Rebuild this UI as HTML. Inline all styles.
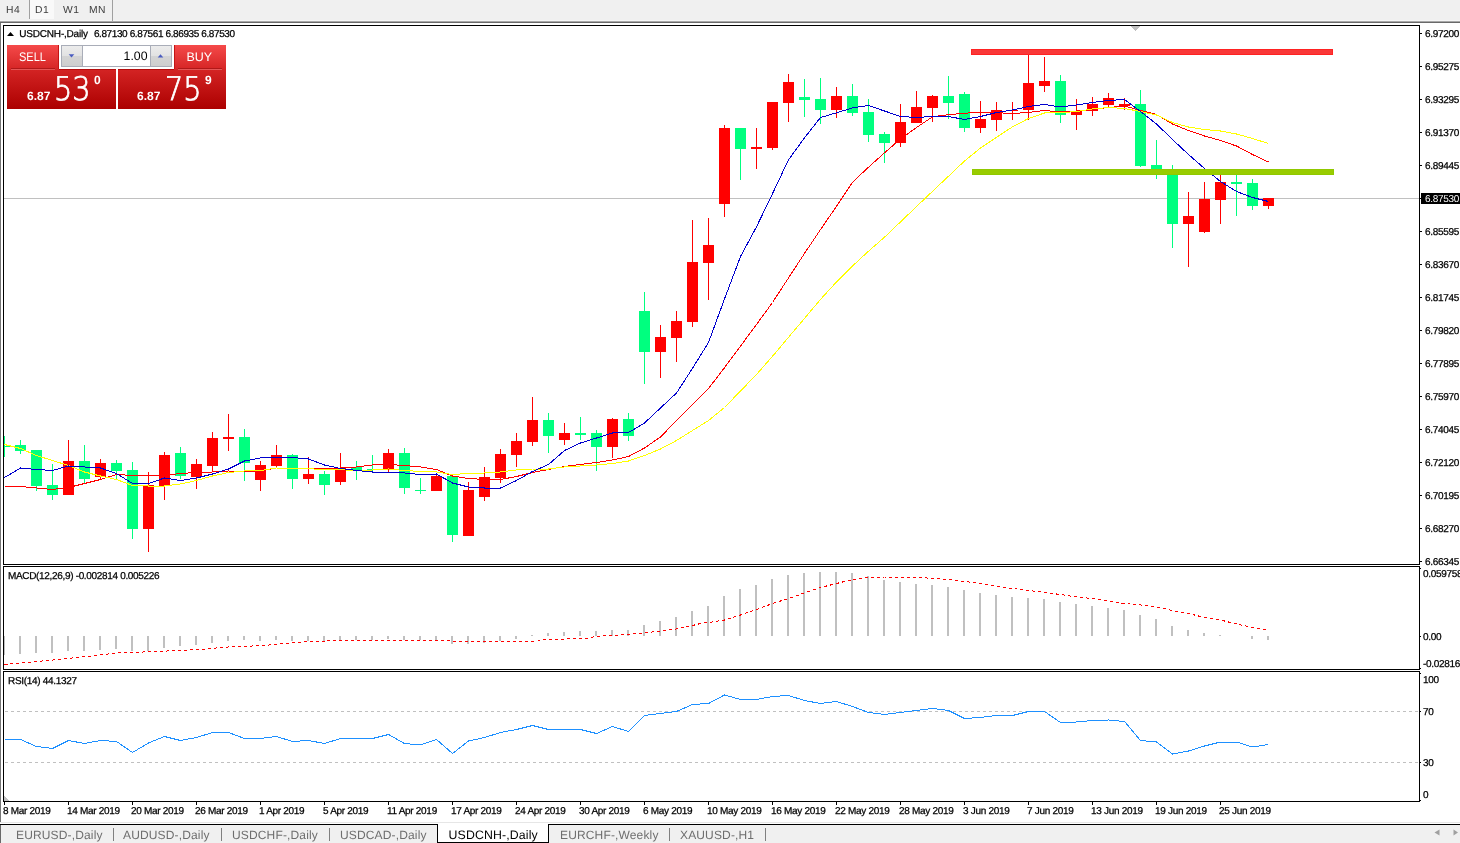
<!DOCTYPE html>
<html><head><meta charset="utf-8"><title>USDCNH-,Daily</title>
<style>
html,body{margin:0;padding:0;}
body{width:1460px;height:843px;position:relative;overflow:hidden;background:#fff;font-family:"Liberation Sans",sans-serif;text-rendering:geometricPrecision;}
.ln{position:absolute;}
#tb{position:absolute;left:0;top:0;width:1460px;height:21px;background:#f0f0f0;}
#tb .t{position:absolute;top:3px;font-size:11px;color:#3c3c3c;line-height:13px;}
.ax,.dt,.lbl{-webkit-text-stroke:0.25px #000;}
.ax{position:absolute;left:1425px;font-size:10px;line-height:12px;color:#000;white-space:nowrap;letter-spacing:-0.3px;}
.cur{position:absolute;left:1421px;top:193px;width:39px;height:11px;background:#000;color:#fff;font-size:10px;line-height:13px;letter-spacing:-0.3px;box-sizing:border-box;padding-left:4px;white-space:nowrap;}
.dt{position:absolute;top:806px;font-size:10px;line-height:12px;color:#000;white-space:nowrap;letter-spacing:-0.3px;}
.lbl{position:absolute;font-size:10px;line-height:12px;color:#000;white-space:nowrap;letter-spacing:-0.2px;}
#tabs{position:absolute;left:0;top:825px;width:1460px;height:18px;background:#f0f0f0;}
.tab{position:absolute;top:828px;font-size:12px;line-height:14px;color:#6e6e6e;white-space:nowrap;letter-spacing:0.15px;}
.pt{position:absolute;white-space:nowrap;}
.big{font-family:"DejaVu Sans Light","DejaVu Sans","Liberation Sans",sans-serif;font-weight:200;font-size:32.5px;line-height:36px;color:#fff;-webkit-text-stroke:0.8px #fff;transform:scaleX(0.885);transform-origin:0 0}
</style></head><body>
<div id="tb"></div>
<div class="ln" style="left:0;top:20px;width:1460px;height:1px;background:#f6f6f6"></div>
<div class="ln" style="left:0;top:21px;width:1460px;height:1px;background:#a8a8a8"></div>
<div class="ln" style="left:0;top:22px;width:1460px;height:1px;background:#696969"></div>
<div class="ln" style="left:0;top:23px;width:1px;height:799px;background:#767676"></div>
<div class="ln" style="left:30px;top:0;width:24px;height:19px;background:#f9f9f9"></div>
<div class="ln" style="left:29px;top:0;width:1px;height:19px;background:#a0a0a0"></div>
<div class="ln" style="left:112px;top:0;width:1px;height:21px;background:#a0a0a0"></div>
<div id="tbt">
<div class="t" style="position:absolute;left:6px;top:4px;font-size:10.3px;letter-spacing:0.5px;line-height:13px;color:#3c3c3c">H4</div>
<div class="t" style="position:absolute;left:35px;top:4px;font-size:10.3px;letter-spacing:0.5px;line-height:13px;color:#3c3c3c">D1</div>
<div class="t" style="position:absolute;left:63px;top:4px;font-size:10.3px;letter-spacing:0.5px;line-height:13px;color:#3c3c3c">W1</div>
<div class="t" style="position:absolute;left:89px;top:4px;font-size:10.3px;letter-spacing:0.5px;line-height:13px;color:#3c3c3c">MN</div>
</div>
<svg width="1460" height="843" viewBox="0 0 1460 843" style="position:absolute;left:0;top:0" shape-rendering="crispEdges">
<rect x="4" y="198" width="1415" height="1" fill="#c0c0c0"/>
<g fill="#00ff7f"><rect x="4" y="436" width="1" height="21"/><rect x="4" y="446" width="6" height="1"/><rect x="20" y="440" width="1" height="14"/><rect x="15" y="445" width="11" height="6"/><rect x="36" y="450" width="1" height="41"/><rect x="31" y="450" width="11" height="36"/><rect x="52" y="464" width="1" height="36"/><rect x="47" y="485" width="11" height="10"/><rect x="84" y="445" width="1" height="38"/><rect x="79" y="461" width="11" height="18"/><rect x="116" y="460" width="1" height="20"/><rect x="111" y="463" width="11" height="8"/><rect x="132" y="462" width="1" height="77"/><rect x="127" y="470" width="11" height="59"/><rect x="180" y="447" width="1" height="32"/><rect x="175" y="453" width="11" height="23"/><rect x="244" y="429" width="1" height="52"/><rect x="239" y="437" width="11" height="26"/><rect x="292" y="454" width="1" height="35"/><rect x="287" y="455" width="11" height="24"/><rect x="324" y="471" width="1" height="24"/><rect x="319" y="474" width="11" height="11"/><rect x="356" y="461" width="1" height="19"/><rect x="351" y="467" width="11" height="4"/><rect x="372" y="455" width="1" height="18"/><rect x="367" y="469" width="11" height="1"/><rect x="404" y="448" width="1" height="46"/><rect x="399" y="453" width="11" height="35"/><rect x="420" y="478" width="1" height="16"/><rect x="415" y="490" width="11" height="1"/><rect x="452" y="475" width="1" height="67"/><rect x="447" y="476" width="11" height="59"/><rect x="548" y="413" width="1" height="40"/><rect x="543" y="420" width="11" height="16"/><rect x="580" y="417" width="1" height="23"/><rect x="575" y="433" width="11" height="2"/><rect x="596" y="430" width="1" height="41"/><rect x="591" y="433" width="11" height="14"/><rect x="628" y="413" width="1" height="28"/><rect x="623" y="419" width="11" height="17"/><rect x="644" y="292" width="1" height="92"/><rect x="639" y="311" width="11" height="41"/><rect x="740" y="128" width="1" height="52"/><rect x="735" y="128" width="11" height="21"/><rect x="804" y="79" width="1" height="38"/><rect x="799" y="97" width="11" height="3"/><rect x="820" y="78" width="1" height="46"/><rect x="815" y="99" width="11" height="11"/><rect x="852" y="84" width="1" height="32"/><rect x="847" y="96" width="11" height="17"/><rect x="868" y="99" width="1" height="43"/><rect x="863" y="112" width="11" height="23"/><rect x="884" y="132" width="1" height="31"/><rect x="879" y="134" width="11" height="9"/><rect x="948" y="76" width="1" height="43"/><rect x="943" y="96" width="11" height="7"/><rect x="964" y="92" width="1" height="40"/><rect x="959" y="94" width="11" height="34"/><rect x="1060" y="75" width="1" height="48"/><rect x="1055" y="81" width="11" height="34"/><rect x="1140" y="90" width="1" height="77"/><rect x="1135" y="104" width="11" height="62"/><rect x="1156" y="140" width="1" height="39"/><rect x="1151" y="165" width="11" height="6"/><rect x="1172" y="165" width="1" height="83"/><rect x="1167" y="171" width="11" height="53"/><rect x="1236" y="171" width="1" height="45"/><rect x="1231" y="182" width="11" height="2"/><rect x="1252" y="179" width="1" height="31"/><rect x="1247" y="183" width="11" height="23"/></g>
<g fill="#ff0000"><rect x="68" y="440" width="1" height="55"/><rect x="63" y="461" width="11" height="34"/><rect x="100" y="459" width="1" height="20"/><rect x="95" y="463" width="11" height="14"/><rect x="148" y="472" width="1" height="80"/><rect x="143" y="485" width="11" height="44"/><rect x="164" y="452" width="1" height="48"/><rect x="159" y="455" width="11" height="31"/><rect x="196" y="459" width="1" height="30"/><rect x="191" y="464" width="11" height="13"/><rect x="212" y="432" width="1" height="40"/><rect x="207" y="438" width="11" height="28"/><rect x="228" y="414" width="1" height="37"/><rect x="223" y="437" width="11" height="2"/><rect x="260" y="461" width="1" height="30"/><rect x="255" y="465" width="11" height="15"/><rect x="276" y="445" width="1" height="23"/><rect x="271" y="455" width="11" height="11"/><rect x="308" y="457" width="1" height="27"/><rect x="303" y="474" width="11" height="5"/><rect x="340" y="453" width="1" height="32"/><rect x="335" y="468" width="11" height="14"/><rect x="388" y="449" width="1" height="24"/><rect x="383" y="453" width="11" height="16"/><rect x="436" y="474" width="1" height="17"/><rect x="431" y="476" width="11" height="15"/><rect x="468" y="482" width="1" height="54"/><rect x="463" y="490" width="11" height="46"/><rect x="484" y="467" width="1" height="34"/><rect x="479" y="477" width="11" height="20"/><rect x="500" y="449" width="1" height="34"/><rect x="495" y="454" width="11" height="24"/><rect x="516" y="433" width="1" height="34"/><rect x="511" y="441" width="11" height="14"/><rect x="532" y="397" width="1" height="49"/><rect x="527" y="420" width="11" height="22"/><rect x="564" y="423" width="1" height="22"/><rect x="559" y="433" width="11" height="7"/><rect x="612" y="418" width="1" height="40"/><rect x="607" y="419" width="11" height="28"/><rect x="660" y="325" width="1" height="53"/><rect x="655" y="337" width="11" height="15"/><rect x="676" y="311" width="1" height="51"/><rect x="671" y="321" width="11" height="17"/><rect x="692" y="220" width="1" height="107"/><rect x="687" y="262" width="11" height="60"/><rect x="708" y="218" width="1" height="82"/><rect x="703" y="245" width="11" height="18"/><rect x="724" y="125" width="1" height="92"/><rect x="719" y="128" width="11" height="76"/><rect x="756" y="128" width="1" height="41"/><rect x="751" y="147" width="11" height="2"/><rect x="772" y="102" width="1" height="48"/><rect x="767" y="102" width="11" height="46"/><rect x="788" y="74" width="1" height="48"/><rect x="783" y="82" width="11" height="21"/><rect x="836" y="87" width="1" height="31"/><rect x="831" y="96" width="11" height="14"/><rect x="900" y="104" width="1" height="43"/><rect x="895" y="122" width="11" height="21"/><rect x="916" y="91" width="1" height="32"/><rect x="911" y="107" width="11" height="16"/><rect x="932" y="95" width="1" height="27"/><rect x="927" y="96" width="11" height="12"/><rect x="980" y="101" width="1" height="32"/><rect x="975" y="119" width="11" height="9"/><rect x="996" y="102" width="1" height="29"/><rect x="991" y="110" width="11" height="10"/><rect x="1012" y="102" width="1" height="18"/><rect x="1007" y="110" width="11" height="1"/><rect x="1028" y="54" width="1" height="66"/><rect x="1023" y="83" width="11" height="27"/><rect x="1044" y="57" width="1" height="35"/><rect x="1039" y="81" width="11" height="5"/><rect x="1076" y="99" width="1" height="31"/><rect x="1071" y="111" width="11" height="4"/><rect x="1092" y="97" width="1" height="19"/><rect x="1087" y="104" width="11" height="7"/><rect x="1108" y="93" width="1" height="14"/><rect x="1103" y="98" width="11" height="7"/><rect x="1124" y="98" width="1" height="12"/><rect x="1119" y="104" width="11" height="2"/><rect x="1188" y="192" width="1" height="75"/><rect x="1183" y="216" width="11" height="8"/><rect x="1204" y="182" width="1" height="51"/><rect x="1199" y="199" width="11" height="33"/><rect x="1220" y="171" width="1" height="53"/><rect x="1215" y="182" width="11" height="18"/><rect x="1268" y="198" width="1" height="11"/><rect x="1263" y="198" width="11" height="8"/></g>
<polyline points="4.5,486.0 20.5,486.5 36.5,488.0 52.5,489.5 68.5,487.5 84.5,483.5 100.5,479.5 116.5,474.5 132.5,475.5 148.5,476.0 164.5,475.5 180.5,473.5 196.5,472.5 212.5,472.0 228.5,471.0 244.5,471.5 260.5,471.0 276.5,468.0 292.5,468.0 308.5,468.5 324.5,469.0 340.5,468.0 356.5,467.0 372.5,465.0 388.5,464.5 404.5,465.5 420.5,467.0 436.5,469.5 452.5,476.0 468.5,478.5 484.5,479.5 500.5,479.5 516.5,476.5 532.5,472.5 548.5,469.5 564.5,466.5 580.5,464.5 596.5,462.5 612.5,460.0 628.5,456.5 644.5,448.0 660.5,437.0 676.5,420.5 692.5,404.5 708.5,388.5 724.5,367.7 740.5,346.1 756.5,324.5 772.5,302.5 788.5,277.9 804.5,253.4 820.5,229.6 836.5,206.3 852.5,182.2 868.5,167.2 884.5,152.8 900.5,139.0 916.5,127.5 932.5,116.8 948.5,114.7 964.5,113.3 980.5,112.0 996.5,112.7 1012.5,113.5 1028.5,112.5 1044.5,110.5 1060.5,112.0 1076.5,111.0 1092.5,109.5 1108.5,107.5 1124.5,106.0 1140.5,110.5 1156.5,114.5 1172.5,124.0 1188.5,130.5 1204.5,136.0 1220.5,140.5 1236.5,146.0 1252.5,154.5 1268.5,162.0" fill="none" stroke="#ff0000" stroke-width="1" />
<polyline points="4.5,444.5 20.5,448.5 36.5,455.5 52.5,460.5 68.5,465.5 84.5,472.0 100.5,476.0 116.5,479.5 132.5,485.5 148.5,486.0 164.5,486.0 180.5,484.0 196.5,480.5 212.5,476.0 228.5,472.5 244.5,471.0 260.5,470.5 276.5,468.0 292.5,468.5 308.5,468.5 324.5,470.0 340.5,469.5 356.5,471.0 372.5,470.0 388.5,469.0 404.5,470.5 420.5,471.5 436.5,472.0 452.5,474.5 468.5,473.5 484.5,473.0 500.5,472.0 516.5,470.0 532.5,469.0 548.5,469.0 564.5,467.0 580.5,466.0 596.5,465.0 612.5,463.5 628.5,461.0 644.5,455.5 660.5,449.0 676.5,440.5 692.5,430.5 708.5,420.5 724.5,407.5 740.5,391.0 756.5,374.5 772.5,356.3 788.5,337.3 804.5,318.4 820.5,299.4 836.5,282.0 852.5,266.0 868.5,251.2 884.5,237.2 900.5,221.9 916.5,206.6 932.5,191.3 948.5,176.2 964.5,161.0 980.5,148.0 996.5,137.4 1012.5,126.8 1028.5,118.5 1044.5,113.0 1060.5,112.8 1076.5,111.5 1092.5,109.0 1108.5,107.5 1124.5,108.5 1140.5,111.5 1156.5,115.0 1172.5,122.5 1188.5,127.0 1204.5,129.5 1220.5,131.0 1236.5,134.0 1252.5,138.5 1268.5,143.5" fill="none" stroke="#ffff00" stroke-width="1" />
<polyline points="4.5,477.5 20.5,468.0 36.5,469.5 52.5,470.5 68.5,466.0 84.5,467.0 100.5,468.0 116.5,473.5 132.5,483.5 148.5,483.5 164.5,478.0 180.5,480.5 196.5,478.0 212.5,474.0 228.5,469.0 244.5,461.0 260.5,458.0 276.5,457.5 292.5,457.5 308.5,459.0 324.5,465.0 340.5,468.5 356.5,470.5 372.5,472.0 388.5,472.0 404.5,473.0 420.5,474.5 436.5,474.0 452.5,483.0 468.5,487.0 484.5,488.0 500.5,488.0 516.5,480.5 532.5,471.5 548.5,464.5 564.5,450.5 580.5,443.0 596.5,438.0 612.5,433.0 628.5,432.5 644.5,423.0 660.5,408.0 676.5,393.0 692.5,368.3 708.5,342.5 724.5,299.0 740.5,256.5 756.5,226.8 772.5,193.7 788.5,159.8 804.5,137.8 820.5,117.5 836.5,112.8 852.5,107.9 868.5,105.5 884.5,111.0 900.5,116.5 916.5,117.5 932.5,116.5 948.5,116.5 964.5,119.5 980.5,116.5 996.5,112.5 1012.5,110.0 1028.5,106.5 1044.5,104.5 1060.5,107.0 1076.5,105.0 1092.5,102.5 1108.5,100.5 1124.5,99.5 1140.5,111.5 1156.5,124.0 1172.5,139.5 1188.5,154.5 1204.5,168.5 1220.5,181.5 1236.5,191.5 1252.5,197.5 1268.5,201.5" fill="none" stroke="#0000cd" stroke-width="1" />
<rect x="971.5" y="49.5" width="361" height="5" fill="#f93838" stroke="#ff2222" stroke-width="1"/>
<rect x="972.5" y="169.5" width="361" height="5" fill="#99cc00" stroke="#90c800" stroke-width="1"/>
<g fill="#c0c0c0"><rect x="4" y="636" width="1" height="19"/><rect x="19" y="636" width="2" height="18"/><rect x="35" y="636" width="2" height="17"/><rect x="51" y="636" width="2" height="17"/><rect x="67" y="636" width="2" height="15"/><rect x="83" y="636" width="2" height="15"/><rect x="99" y="636" width="2" height="14"/><rect x="115" y="636" width="2" height="13"/><rect x="131" y="636" width="2" height="15"/><rect x="147" y="636" width="2" height="15"/><rect x="163" y="636" width="2" height="12"/><rect x="179" y="636" width="2" height="10"/><rect x="195" y="636" width="2" height="9"/><rect x="211" y="636" width="2" height="7"/><rect x="227" y="636" width="2" height="5"/><rect x="243" y="636" width="2" height="4"/><rect x="259" y="636" width="2" height="5"/><rect x="275" y="636" width="2" height="4"/><rect x="291" y="636" width="2" height="5"/><rect x="307" y="636" width="2" height="5"/><rect x="323" y="636" width="2" height="5"/><rect x="339" y="636" width="2" height="4"/><rect x="355" y="636" width="2" height="4"/><rect x="371" y="636" width="2" height="4"/><rect x="387" y="636" width="2" height="3"/><rect x="403" y="636" width="2" height="4"/><rect x="419" y="636" width="2" height="4"/><rect x="435" y="636" width="2" height="4.5"/><rect x="451" y="636" width="2" height="7.5"/><rect x="467" y="636" width="2" height="7.5"/><rect x="483" y="636" width="2" height="6.5"/><rect x="499" y="636" width="2" height="4.5"/><rect x="515" y="636" width="2" height="3"/><rect x="531" y="635" width="2" height="1"/><rect x="547" y="633" width="2" height="3"/><rect x="563" y="632" width="2" height="4"/><rect x="579" y="631" width="2" height="5"/><rect x="595" y="631" width="2" height="5"/><rect x="611" y="630" width="2" height="6"/><rect x="627" y="630" width="2" height="6"/><rect x="643" y="625" width="2" height="11"/><rect x="659" y="621" width="2" height="15"/><rect x="675" y="617" width="2" height="19"/><rect x="691" y="611" width="2" height="25"/><rect x="707" y="606" width="2" height="30"/><rect x="723" y="596" width="2" height="40"/><rect x="739" y="589" width="2" height="47"/><rect x="755" y="585" width="2" height="51"/><rect x="771" y="579" width="2" height="57"/><rect x="787" y="575" width="2" height="61"/><rect x="803" y="573" width="2" height="63"/><rect x="819" y="572" width="2" height="64"/><rect x="835" y="572" width="2" height="64"/><rect x="851" y="573" width="2" height="63"/><rect x="867" y="576" width="2" height="60"/><rect x="883" y="580" width="2" height="56"/><rect x="899" y="582" width="2" height="54"/><rect x="915" y="584" width="2" height="52"/><rect x="931" y="585" width="2" height="51"/><rect x="947" y="587" width="2" height="49"/><rect x="963" y="590" width="2" height="46"/><rect x="979" y="593" width="2" height="43"/><rect x="995" y="595" width="2" height="41"/><rect x="1011" y="597" width="2" height="39"/><rect x="1027" y="598" width="2" height="38"/><rect x="1043" y="599" width="2" height="37"/><rect x="1059" y="602" width="2" height="34"/><rect x="1075" y="604" width="2" height="32"/><rect x="1091" y="606" width="2" height="30"/><rect x="1107" y="608" width="2" height="28"/><rect x="1123" y="610" width="2" height="26"/><rect x="1139" y="615" width="2" height="21"/><rect x="1155" y="619" width="2" height="17"/><rect x="1171" y="626" width="2" height="10"/><rect x="1187" y="630" width="2" height="6"/><rect x="1203" y="633" width="2" height="3"/><rect x="1219" y="635" width="2" height="1"/><rect x="1251" y="636" width="2" height="3"/><rect x="1267" y="636" width="2" height="4"/></g>
<polyline points="4.5,664.5 48.0,660.5 95.5,655.5 115.5,653.1 155.5,651.5 200.5,649.5 225.5,647.1 263.5,645.5 300.5,642.1 338.5,640.5 365.5,640.8 450.5,641.0 485.5,642.0 538.0,641.0 543.0,639.5 585.5,638.5 595.5,636.5 625.5,634.5 644.5,633.0 660.5,631.0 676.5,629.0 692.5,625.5 700.5,623.5 715.5,621.5 724.5,620.0 740.5,615.0 756.5,609.5 772.5,603.5 788.5,598.5 804.5,593.0 820.5,587.5 836.5,583.5 852.5,579.5 868.5,577.5 884.5,577.0 900.5,577.0 916.5,577.0 932.5,578.5 948.5,579.5 964.5,581.5 980.5,583.5 996.5,586.5 1012.5,588.5 1028.5,590.5 1044.5,592.5 1060.5,594.5 1076.5,597.0 1092.5,598.5 1108.5,601.0 1124.5,603.5 1140.5,605.0 1156.5,607.0 1172.5,610.5 1188.5,613.5 1204.5,617.5 1220.5,620.0 1236.5,624.0 1252.5,627.5 1268.5,630.5" fill="none" stroke="#ff0000" stroke-width="1" stroke-dasharray="3 3"/>
<line x1="5" y1="711.5" x2="1419" y2="711.5" stroke="#c0c0c0" stroke-width="1" stroke-dasharray="3 3"/>
<line x1="5" y1="762.5" x2="1419" y2="762.5" stroke="#c0c0c0" stroke-width="1" stroke-dasharray="3 3"/>
<polyline points="4.5,739.5 20.5,739.5 36.5,746.5 52.5,748.5 68.5,740.5 84.5,743.5 100.5,740.5 116.5,741.5 132.5,752.5 148.5,743.0 164.5,736.5 180.5,740.5 196.5,737.5 212.5,732.5 228.5,732.5 244.5,738.5 260.5,738.5 276.5,736.5 292.5,741.5 308.5,740.5 324.5,743.5 340.5,738.5 356.5,738.5 372.5,738.5 388.5,734.5 404.5,743.5 420.5,745.0 436.5,739.5 452.5,753.5 468.5,741.0 484.5,737.5 500.5,732.5 516.5,729.5 532.5,725.5 548.5,729.5 564.5,729.5 580.5,729.5 596.5,733.5 612.5,726.5 628.5,731.5 644.5,715.5 660.5,713.5 676.5,711.5 692.5,704.5 708.5,703.5 724.5,695.0 740.5,699.5 756.5,699.5 772.5,696.5 788.5,695.5 804.5,700.5 820.5,703.5 836.5,701.5 852.5,706.5 868.5,712.5 884.5,714.5 900.5,712.5 916.5,710.5 932.5,708.5 948.5,710.5 964.5,718.5 980.5,717.5 996.5,715.5 1012.5,715.5 1028.5,711.5 1044.5,711.5 1060.5,722.5 1076.5,722.0 1092.5,720.5 1108.5,720.0 1124.5,721.5 1140.5,740.5 1156.5,742.0 1172.5,754.0 1188.5,751.0 1204.5,746.0 1220.5,742.0 1236.5,742.0 1252.5,747.0 1268.5,744.5" fill="none" stroke="#1e90ff" stroke-width="1" />
<polygon points="1130,26 1140,26 1135,31" fill="#c0c0c0"/>
<polygon points="4,796 4,801 9,801" fill="#c0c0c0"/>
</svg>
<div class="ln" style="left:3px;top:25px;width:1417px;height:1px;background:#000"></div><div class="ln" style="left:3px;top:25px;width:1px;height:540px;background:#000"></div><div class="ln" style="left:3px;top:564px;width:1417px;height:1px;background:#000"></div><div class="ln" style="left:3px;top:566px;width:1417px;height:1px;background:#000"></div><div class="ln" style="left:3px;top:566px;width:1px;height:104px;background:#000"></div><div class="ln" style="left:3px;top:669px;width:1417px;height:1px;background:#000"></div><div class="ln" style="left:3px;top:671px;width:1417px;height:1px;background:#000"></div><div class="ln" style="left:3px;top:671px;width:1px;height:131px;background:#000"></div><div class="ln" style="left:3px;top:801px;width:1417px;height:1px;background:#000"></div><div class="ln" style="left:1419px;top:25px;width:1px;height:540px;background:#000"></div><div class="ln" style="left:1419px;top:566px;width:1px;height:104px;background:#000"></div><div class="ln" style="left:1419px;top:671px;width:1px;height:131px;background:#000"></div><div class="ln" style="left:1420px;top:33px;width:2px;height:1px;background:#000"></div><div class="ln" style="left:1420px;top:66px;width:2px;height:1px;background:#000"></div><div class="ln" style="left:1420px;top:99px;width:2px;height:1px;background:#000"></div><div class="ln" style="left:1420px;top:132px;width:2px;height:1px;background:#000"></div><div class="ln" style="left:1420px;top:165px;width:2px;height:1px;background:#000"></div><div class="ln" style="left:1420px;top:231px;width:2px;height:1px;background:#000"></div><div class="ln" style="left:1420px;top:264px;width:2px;height:1px;background:#000"></div><div class="ln" style="left:1420px;top:297px;width:2px;height:1px;background:#000"></div><div class="ln" style="left:1420px;top:330px;width:2px;height:1px;background:#000"></div><div class="ln" style="left:1420px;top:363px;width:2px;height:1px;background:#000"></div><div class="ln" style="left:1420px;top:396px;width:2px;height:1px;background:#000"></div><div class="ln" style="left:1420px;top:429px;width:2px;height:1px;background:#000"></div><div class="ln" style="left:1420px;top:462px;width:2px;height:1px;background:#000"></div><div class="ln" style="left:1420px;top:495px;width:2px;height:1px;background:#000"></div><div class="ln" style="left:1420px;top:528px;width:2px;height:1px;background:#000"></div><div class="ln" style="left:1420px;top:561px;width:2px;height:1px;background:#000"></div><div class="ln" style="left:1420px;top:198px;width:1px;height:1px;background:#000"></div><div class="ln" style="left:1420px;top:568px;width:1px;height:1px;background:#000"></div><div class="ln" style="left:1420px;top:636px;width:1px;height:1px;background:#000"></div><div class="ln" style="left:1420px;top:668px;width:1px;height:1px;background:#000"></div><div class="ln" style="left:1420px;top:673px;width:1px;height:1px;background:#000"></div><div class="ln" style="left:1420px;top:711px;width:1px;height:1px;background:#000"></div><div class="ln" style="left:1420px;top:762px;width:1px;height:1px;background:#000"></div><div class="ln" style="left:1420px;top:800px;width:1px;height:1px;background:#000"></div><div class="ln" style="left:4px;top:802px;width:1px;height:3px;background:#000"></div><div class="ln" style="left:68px;top:802px;width:1px;height:3px;background:#000"></div><div class="ln" style="left:132px;top:802px;width:1px;height:3px;background:#000"></div><div class="ln" style="left:196px;top:802px;width:1px;height:3px;background:#000"></div><div class="ln" style="left:260px;top:802px;width:1px;height:3px;background:#000"></div><div class="ln" style="left:324px;top:802px;width:1px;height:3px;background:#000"></div><div class="ln" style="left:388px;top:802px;width:1px;height:3px;background:#000"></div><div class="ln" style="left:452px;top:802px;width:1px;height:3px;background:#000"></div><div class="ln" style="left:516px;top:802px;width:1px;height:3px;background:#000"></div><div class="ln" style="left:580px;top:802px;width:1px;height:3px;background:#000"></div><div class="ln" style="left:644px;top:802px;width:1px;height:3px;background:#000"></div><div class="ln" style="left:708px;top:802px;width:1px;height:3px;background:#000"></div><div class="ln" style="left:772px;top:802px;width:1px;height:3px;background:#000"></div><div class="ln" style="left:836px;top:802px;width:1px;height:3px;background:#000"></div><div class="ln" style="left:900px;top:802px;width:1px;height:3px;background:#000"></div><div class="ln" style="left:964px;top:802px;width:1px;height:3px;background:#000"></div><div class="ln" style="left:1028px;top:802px;width:1px;height:3px;background:#000"></div><div class="ln" style="left:1092px;top:802px;width:1px;height:3px;background:#000"></div><div class="ln" style="left:1156px;top:802px;width:1px;height:3px;background:#000"></div><div class="ln" style="left:1220px;top:802px;width:1px;height:3px;background:#000"></div>
<div class="ax" style="top:29px">6.97200</div><div class="ax" style="top:62px">6.95275</div><div class="ax" style="top:95px">6.93295</div><div class="ax" style="top:128px">6.91370</div><div class="ax" style="top:161px">6.89445</div><div class="ax" style="top:227px">6.85595</div><div class="ax" style="top:260px">6.83670</div><div class="ax" style="top:293px">6.81745</div><div class="ax" style="top:326px">6.79820</div><div class="ax" style="top:359px">6.77895</div><div class="ax" style="top:392px">6.75970</div><div class="ax" style="top:425px">6.74045</div><div class="ax" style="top:458px">6.72120</div><div class="ax" style="top:491px">6.70195</div><div class="ax" style="top:524px">6.68270</div><div class="ax" style="top:557px">6.66345</div><div class="cur">6.87530</div><div class="ax" style="left:1423px;top:569px">0.059758</div><div class="ax" style="left:1423px;top:632px">0.00</div><div class="ax" style="left:1423px;top:659px">-0.02816</div><div class="ax" style="left:1423px;top:675px">100</div><div class="ax" style="left:1423px;top:707px">70</div><div class="ax" style="left:1423px;top:758px">30</div><div class="ax" style="left:1423px;top:790px">0</div><div class="dt" style="left:3px">8 Mar 2019</div><div class="dt" style="left:67px">14 Mar 2019</div><div class="dt" style="left:131px">20 Mar 2019</div><div class="dt" style="left:195px">26 Mar 2019</div><div class="dt" style="left:259px">1 Apr 2019</div><div class="dt" style="left:323px">5 Apr 2019</div><div class="dt" style="left:387px">11 Apr 2019</div><div class="dt" style="left:451px">17 Apr 2019</div><div class="dt" style="left:515px">24 Apr 2019</div><div class="dt" style="left:579px">30 Apr 2019</div><div class="dt" style="left:643px">6 May 2019</div><div class="dt" style="left:707px">10 May 2019</div><div class="dt" style="left:771px">16 May 2019</div><div class="dt" style="left:835px">22 May 2019</div><div class="dt" style="left:899px">28 May 2019</div><div class="dt" style="left:963px">3 Jun 2019</div><div class="dt" style="left:1027px">7 Jun 2019</div><div class="dt" style="left:1091px">13 Jun 2019</div><div class="dt" style="left:1155px">19 Jun 2019</div><div class="dt" style="left:1219px">25 Jun 2019</div>

<div class="lbl" id="title" style="left:7px;top:29px;letter-spacing:-0.31px"><span style="display:inline-block;width:12.3px"></span><span style="letter-spacing:-0.2px">USDCNH-,Daily</span><span style="letter-spacing:0.25px">&nbsp; </span><span style="letter-spacing:-0.39px">6.87130 6.87561 6.86935 6.87530</span></div>
<div class="lbl" id="macdl" style="left:8px;top:571px;letter-spacing:-0.33px">MACD(12,26,9) -0.002814 0.005226</div>
<div class="lbl" id="rsil" style="left:8px;top:676px;letter-spacing:-0.3px">RSI(14) 44.1327</div>
<div id="panel">
<div class="ln" style="left:7px;top:45px;width:52px;height:24px;background:linear-gradient(#f54a4a,#d62626)"></div>
<div class="ln" style="left:11px;top:68px;width:44px;height:1px;background:#b01818"></div>
<div class="ln" style="left:174px;top:45px;width:52px;height:24px;background:linear-gradient(#f54a4a,#d62626)"></div>
<div class="ln" style="left:178px;top:68px;width:44px;height:1px;background:#b01818"></div>
<div class="ln" style="left:7px;top:69px;width:109px;height:40px;background:linear-gradient(#d42424,#ac0000)"></div>
<div class="ln" style="left:118px;top:69px;width:108px;height:40px;background:linear-gradient(#d42424,#ac0000)"></div>
<div class="ln" style="left:58px;top:45px;width:1px;height:24px;background:#c41414"></div><div class="ln" style="left:174px;top:45px;width:1px;height:24px;background:#c41414"></div><div class="ln" style="left:59px;top:69px;width:57px;height:1px;background:#b40c0c"></div><div class="ln" style="left:118px;top:69px;width:56px;height:1px;background:#b40c0c"></div><div class="ln" style="left:11px;top:69px;width:44px;height:1px;background:#e45656"></div><div class="ln" style="left:178px;top:69px;width:44px;height:1px;background:#e45656"></div><div class="ln" style="left:61px;top:45px;width:111px;height:22px;background:#fff;border:1px solid #a9adb8;box-sizing:border-box"></div>
<div class="ln" style="left:62px;top:46px;width:20px;height:20px;background:linear-gradient(#ececec 0,#e2e2e2 50%,#d4d4d4 50%,#cecece 100%);border-right:1px solid #a9adb8"></div>
<div class="ln" style="left:151px;top:46px;width:20px;height:20px;background:linear-gradient(#ececec 0,#e2e2e2 50%,#d4d4d4 50%,#cecece 100%);border-left:1px solid #a9adb8;margin-left:-1px"></div>
<svg width="240" height="120" style="position:absolute;left:0;top:0"><polygon points="7,36 14,36 10.5,32" fill="#000"/><polygon points="68.7,54.3 74.3,54.3 71.5,57.6" fill="#4a5cc0"/><polygon points="157.7,57.6 163.3,57.6 160.5,54.3" fill="#4a5cc0"/></svg>
<div class="pt" style="left:19px;top:50px;font-size:12.5px;line-height:15px;color:#fff;transform:scaleX(0.88);transform-origin:0 0">SELL</div>
<div class="pt" style="left:186.5px;top:50px;font-size:12.5px;line-height:15px;color:#fff;">BUY</div>
<div class="pt" style="left:100px;top:48.5px;width:47.5px;text-align:right;font-size:12.3px;line-height:15px;color:#000;">1.00</div>
<div class="pt" style="left:27px;top:89.5px;font-size:12px;line-height:13px;color:#fff;font-weight:bold;">6.87</div>
<div class="pt big" style="left:54px;top:71px;">53</div>
<div class="pt" style="left:94px;top:74px;font-size:12px;line-height:13px;color:#fff;font-weight:bold;">0</div>
<div class="pt" style="left:137px;top:89.5px;font-size:12px;line-height:13px;color:#fff;font-weight:bold;">6.87</div>
<div class="pt big" style="left:164.5px;top:71px;">75</div>
<div class="pt" style="left:205px;top:74px;font-size:12px;line-height:13px;color:#fff;font-weight:bold;">9</div>
</div>


<div class="ln" style="left:0;top:822px;width:1460px;height:1px;background:#e6e6e6"></div>
<div class="ln" style="left:0;top:824px;width:1460px;height:1px;background:#000"></div>
<div id="tabs"></div>
<div class="ln" style="left:0;top:825px;width:1px;height:18px;background:#696969"></div>
<div class="ln" style="left:437px;top:824px;width:112px;height:19px;background:#fff;border:1px solid #000;border-top:none;box-sizing:border-box"></div>
<div class="ln" style="left:113px;top:828px;width:1px;height:13px;background:#808080"></div>
<div class="ln" style="left:221px;top:828px;width:1px;height:13px;background:#808080"></div>
<div class="ln" style="left:329px;top:828px;width:1px;height:13px;background:#808080"></div>
<div class="ln" style="left:669px;top:828px;width:1px;height:13px;background:#808080"></div>
<div class="ln" style="left:765px;top:828px;width:1px;height:13px;background:#808080"></div>
<div class="tab" id="t1" style="left:16px">EURUSD-,Daily</div>
<div class="tab" id="t2" style="left:123px">AUDUSD-,Daily</div>
<div class="tab" id="t3" style="left:232px">USDCHF-,Daily</div>
<div class="tab" id="t4" style="left:340px">USDCAD-,Daily</div>
<div class="tab" id="t5" style="left:448.5px;color:#000;font-size:12.3px">USDCNH-,Daily</div>
<div class="tab" id="t6" style="left:560px">EURCHF-,Weekly</div>
<div class="tab" id="t7" style="left:680px">XAUUSD-,H1</div>
<svg width="30" height="18" style="position:absolute;left:1430px;top:825px"><polygon points="9.5,4.5 9.5,10.5 4.5,7.5" fill="#a0a0a0"/><polygon points="23.5,4.5 23.5,10.5 28,7.5" fill="#a0a0a0"/></svg>

</body></html>
